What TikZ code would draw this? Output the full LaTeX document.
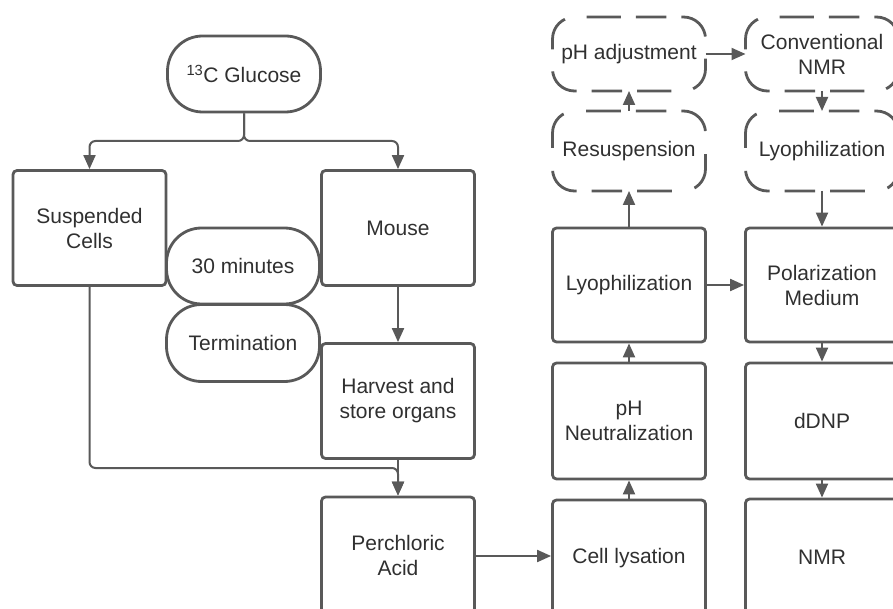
\documentclass[tikz,border=0pt]{standalone}
\usepackage{fontspec}
\setmainfont{Liberation Sans}
\usepackage{tikz}
\usetikzlibrary{positioning, arrows.meta}

\definecolor{linegray}{HTML}{595959}
\definecolor{textgray}{HTML}{303030}

\begin{document}
\begin{tikzpicture}[
    x=1pt, y=-1pt,
    every node/.style={font=\fontsize{21}{25}\selectfont, text=textgray},
    box/.style={draw=linegray, line width=2.8pt, rounded corners=4pt, fill=white,
        minimum width=153pt, minimum height=115pt, align=center, inner sep=0pt},
    term/.style={box, rounded corners=35pt, minimum height=76pt},
    optbox/.style={minimum width=153pt, align=center, inner sep=0pt, outer sep=0pt},
    optline/.style={draw=linegray, line width=2.8pt, rounded corners=22pt},
    arr/.style={draw=linegray, line width=2pt, rounded corners=6pt,
        -{Triangle[length=14pt,width=12pt]}}
]
\useasboundingbox (0,0) rectangle (893,609);
\clip (0,0) rectangle (893,609);

% Start
\node[term] (glucose) at (244,74) {\textsuperscript{13}C Glucose};

% Cells and mouse
\node[box] (susp) at (89.5,228) {Suspended\\Cells};
\node[box] (mouse) at (398,228) {Mouse};
\node[box] (harvest) at (398,401) {Harvest and\\store organs};
\node[box, minimum height=116pt] (perch) at (398,555) {Perchloric\\Acid};

% Time labels
\node[term] (thirty) at (243,266) {30 minutes};
\node[term, minimum height=77pt] (termin) at (243,343) {Termination};

% Extraction column
\node[box, minimum height=116pt] (lysis) at (629,558) {Cell lysation};
\node[box, minimum height=116pt] (neutral) at (629,421) {pH\\Neutralization};
\node[box, minimum height=114pt] (lyo) at (629,285) {Lyophilization};
\node[optbox, minimum height=80pt] (resusp) at (629,151) {Resuspension};
\node[optbox, minimum height=74pt] (phadj) at (629,54) {pH adjustment};

% Measurement column
\node[optbox, minimum height=74pt] (convnmr) at (822,54) {Conventional\\NMR};
\node[optbox, minimum height=80pt] (lyotwo) at (822,151) {Lyophilization};
\node[box, minimum height=114pt] (polar) at (822,285) {Polarization\\Medium};
\node[box, minimum height=116pt] (ddnp) at (822,421) {dDNP};
\node[box, minimum height=116pt] (nmr) at (822,557) {NMR};

% Dashed outlines: start at the middle dash of the top side
\foreach \n/\g/\c/\b in {phadj/22/34.3/35, convnmr/22/34.3/35, resusp/23/34.8/38, lyotwo/23/34.8/38}
    \draw[optline, dash pattern=on 30.5pt off 15pt on \c pt off \g pt on \b pt off \g pt on \c pt off 15pt]
        ([xshift=-15.25pt]\n.north) -- (\n.north east) -- (\n.south east) -- (\n.south west)
        -- (\n.north west) -- cycle;

% Connectors
\coordinate (split) at (244,141);
\coordinate (join) at (398,468);
\draw[arr] (glucose.south) -- (split) -| (susp.north);
\draw[arr] (glucose.south) -- (split) -| (mouse.north);
\draw[arr] (mouse) -- (harvest);
\draw[arr] (susp.south) |- (join) -- (perch.north);
\draw[arr] (harvest) -- (perch);
\draw[arr] (perch.east |- 0,556) -- (lysis.west |- 0,556);
\draw[arr] (lysis) -- (neutral);
\draw[arr] (neutral) -- (lyo);
\draw[arr] (lyo) -- (resusp);
\draw[arr] (resusp) -- (phadj);
\draw[arr] (phadj) -- (convnmr);
\draw[arr] (convnmr) -- (lyotwo);
\draw[arr] (lyotwo) -- (polar);
\draw[arr] (lyo) -- (polar);
\draw[arr] (polar) -- (ddnp);
\draw[arr] (ddnp) -- (nmr);

\end{tikzpicture}
\end{document}
